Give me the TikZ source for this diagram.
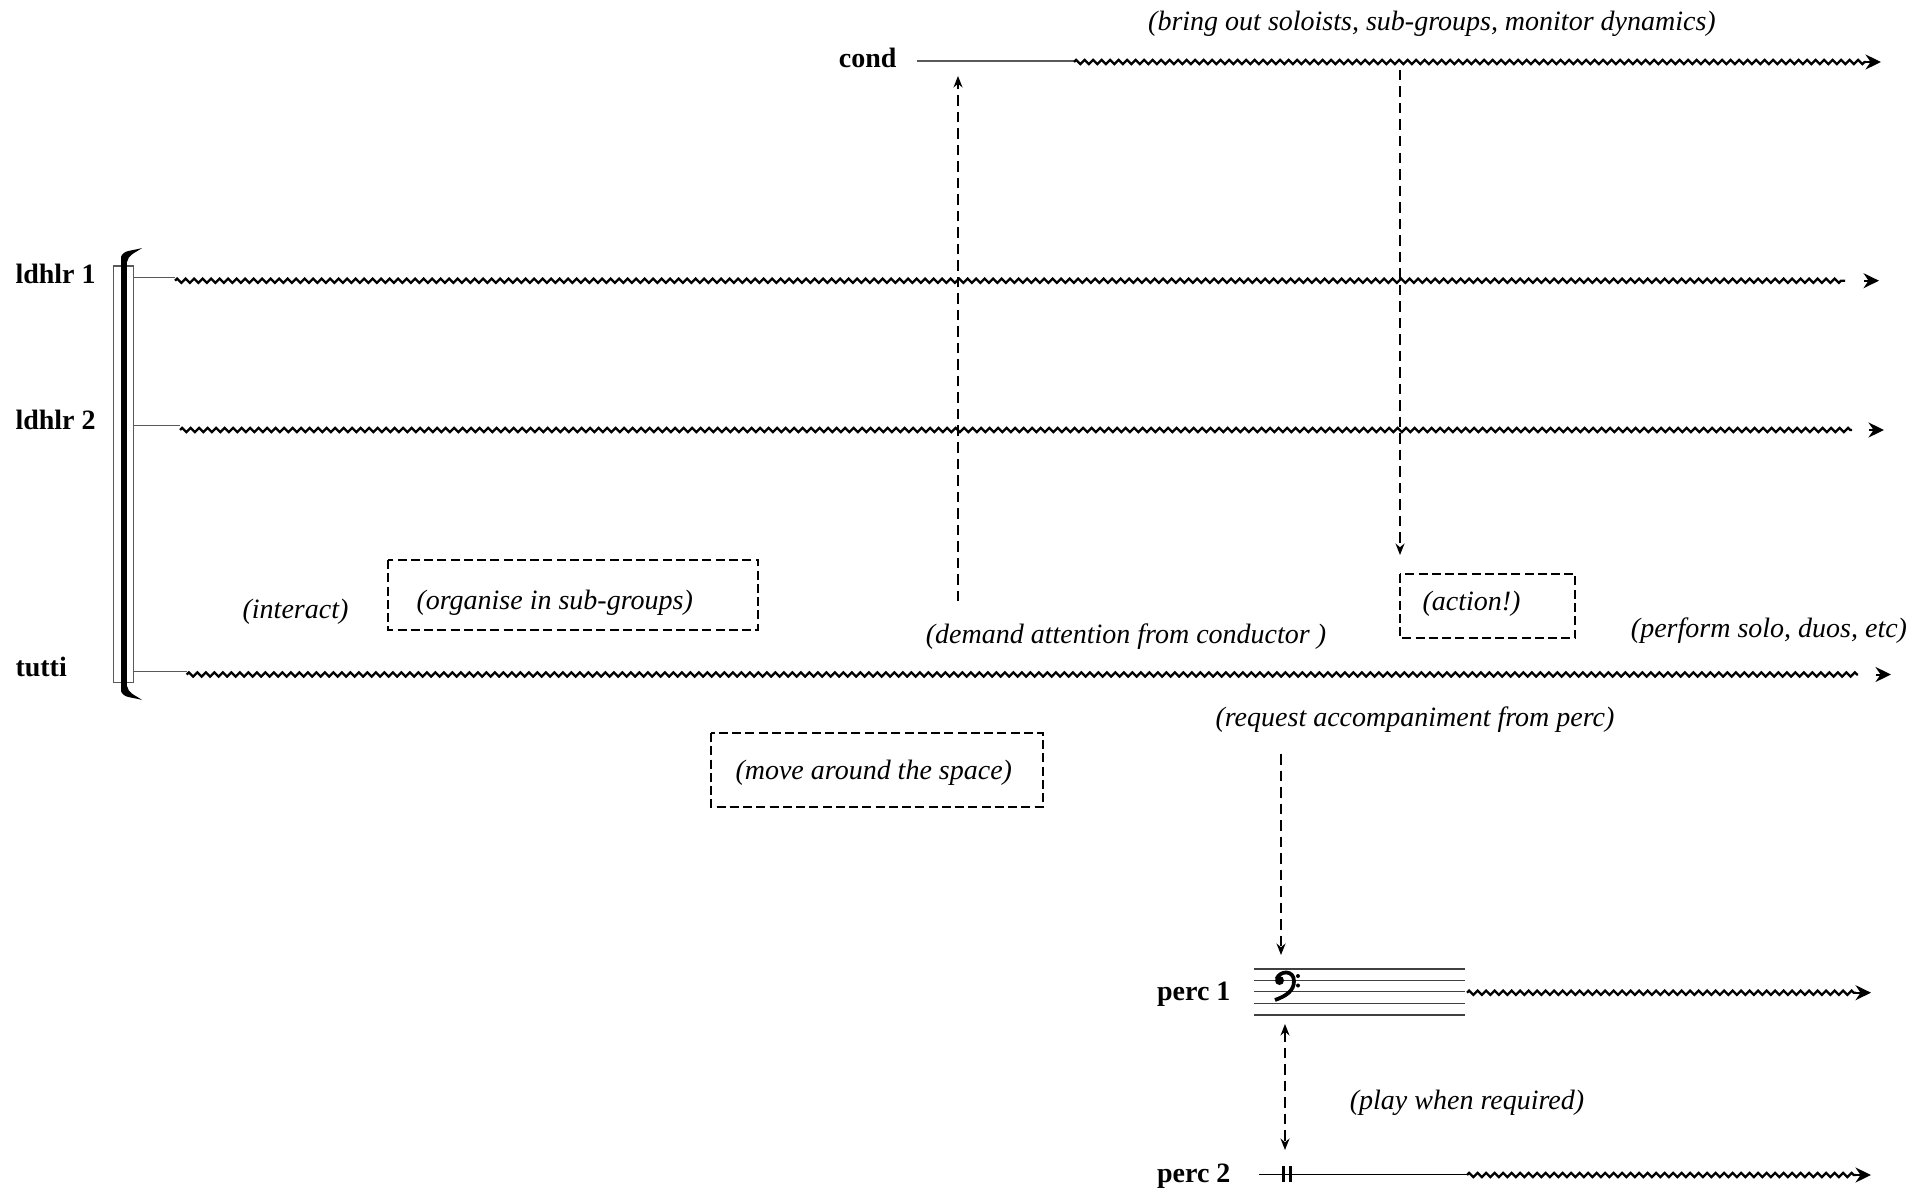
\documentclass[tikz,border=0pt]{standalone}
\usepackage{fontspec}
\setmainfont{Liberation Serif}
\usetikzlibrary{arrows.meta,decorations.pathmorphing}

\begin{document}
\begin{tikzpicture}[x=0.4pt,y=-0.4pt,>=Stealth,
    part/.style={font=\fontsize{11.2}{13}\selectfont\bfseries, inner sep=0pt},
    note/.style={font=\fontsize{11.2}{13}\selectfont\itshape, inner sep=0pt},
    stub/.style={black!65, line width=0.5pt},
    wave/.style={line width=0.9pt, decorate, decoration={zigzag, segment length=3.4pt, amplitude=0.85pt}},
    head/.style={-{Stealth[length=6.2pt,width=6pt]}, line width=0.8pt},
    cue/.style={dash pattern=on 4.2pt off 2.4pt, line width=0.6pt},
    dbox/.style={draw, dash pattern=on 3.6pt off 1.7pt, line width=0.8pt}]
                \useasboundingbox (0,0) rectangle (1921,1192);

                % Bracket
                \draw[stub] (113.3,266) rectangle (133.3,682.7);
                \fill (121,258) rectangle (127,690);
                \fill (121,262) -- (121,257) .. controls (123,250) and (132,251) .. (142,248)
                      .. controls (135,253) and (128,255) .. (127,262) -- cycle;
                \fill (121,686) -- (121,691) .. controls (123,698) and (132,697) .. (142,700)
                      .. controls (135,695) and (128,693) .. (127,686) -- cycle;

                % Parts
                \node[part, anchor=base west] (ld1) at (15,283.3) {ldhlr 1};
                \node[part, anchor=base west] (ld2) at (15,429.3) {ldhlr 2};
                \node[part, anchor=base west] (tutti) at (15,676.7) {tutti};
                \node[part, anchor=base east] (cond) at (897,68) {cond};
                \node[part, anchor=base east] (perc1) at (1231,1000) {perc 1};
                \node[part, anchor=base east] (perc2) at (1231,1182) {perc 2};

                % Conductor line
                \coordinate (c0) at (917,61);
                \coordinate (c1) at (1074,62);
                \coordinate (c2) at (1866,62);
                \coordinate (c3) at (1881,62);
                \draw[stub] (c0) -- (c1 |- c0);
                \draw[wave] (c1) -- (c2);
                \draw[head] (c2) -- (c3);

                % Ldhlr and tutti lines
                \draw[stub] (133.3,277.3) -- (175,277.3);
                \draw[wave] (175,280.7) coordinate (l1a) -- (1845,280.7) coordinate (l1b);
                \draw[head] (1864,280.7) -- (1879,280.7);
                \draw[stub] (133.3,425.7) -- (180,425.7);
                \draw[wave] (180,430) coordinate (l2a) -- (1852,430) coordinate (l2b);
                \draw[head] (1869,430) -- (1884,430);
                \draw[stub] (133.3,671.7) -- (186.7,671.7);
                \draw[wave] (186.7,674.5) coordinate (ta) -- (1858,674.5) coordinate (tb);
                \draw[head] (1876,674.5) -- (1891,674.5);

                % Perc 1 staff
                \foreach \y in {969,980.3,991.7,1003.3,1015}
                    \draw[black!75, line width=0.6pt] (1254,\y) -- (1465,\y);
                \fill (1279.5,980.5) circle (1.8pt);
                \draw[line width=1.5pt] (1276.5,979) .. controls (1280,970) and (1294,970) .. (1294,981)
                      .. controls (1294,991) and (1286,996) .. (1275,1000);
                \fill (1298,976) circle (0.8pt) (1298,985.5) circle (0.8pt);
                \coordinate (p1a) at (1467,992.7);
                \coordinate (p1b) at (1856,992.7);
                \draw[wave] (p1a) -- (p1b);
                \draw[head] (p1b) -- ++(15,0);

                % Perc 2 line
                \coordinate (p2a) at (1259,1174.3);
                \coordinate (p2b) at (1467,1175);
                \coordinate (p2c) at (1856,1175);
                \draw[line width=0.6pt] (p2a) -- (p2b |- p2a);
                \draw[line width=1.3pt] (1283.5,1166) -- (1283.5,1182) (1290.5,1166) -- (1290.5,1182);
                \draw[wave] (p2b) -- (p2c);
                \draw[head] (p2c) -- ++(15,0);

                % Notes
                \node[note] (bring) at (1432,23.5) {(bring out soloists, sub-groups, monitor dynamics)};
                \node[note] (interact) at (295.5,612) {(interact)};
                \node[note] (demand) at (1126,637) {(demand attention from conductor )};
                \node[note] (perform) at (1769,631) {(perform solo, duos, etc)};
                \node[note] (request) at (1415,720) {(request accompaniment from perc)};
                \node[note] (play) at (1467,1103) {(play when required)};

                % Boxes
                \draw[dbox] (388,560) rectangle (758,630);
                \node[note, anchor=base west] (organise) at (416,609) {(organise in sub-groups)};
                \draw[dbox] (1400,574) rectangle (1575,638);
                \node[note, anchor=base west] (action) at (1422,610) {(action!)};
                \draw[dbox] (711,733) rectangle (1043,807);
                \node[note, anchor=base west] (move) at (735,779) {(move around the space)};

                % Cues
                \coordinate (up0) at (958,601);
                \coordinate (up1) at (958,76);
                \draw[cue, -{Stealth[length=4.6pt,width=3.6pt]}] (up0) -- (up1);
                \coordinate (dn0) at (1400,70);
                \coordinate (dn1) at (1400,555);
                \draw[cue, -{Stealth[length=4.6pt,width=3.6pt]}] (dn0) -- (dn1);
                \coordinate (rq0) at (1281,754);
                \coordinate (rq1) at (1281,955);
                \draw[cue, -{Stealth[length=4.6pt,width=3.6pt]}] (rq0) -- (rq1);
                \coordinate (pl0) at (1285,1024);
                \coordinate (pl1) at (1285,1150);
                \draw[cue, {Stealth[length=4.6pt,width=3.6pt]}-{Stealth[length=4.6pt,width=3.6pt]}] (pl0) -- (pl1);
            \end{tikzpicture}
\end{document}
